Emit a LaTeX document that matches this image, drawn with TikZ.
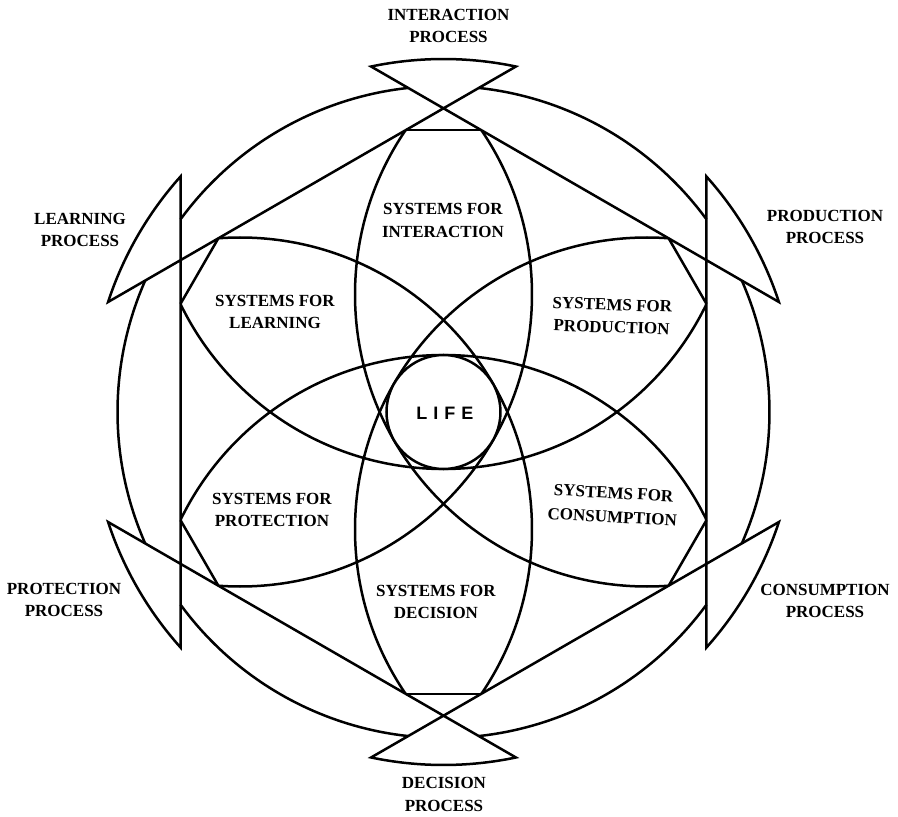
\documentclass[tikz,border=0pt]{standalone}
\usepackage{fontspec}
\setmainfont{Liberation Serif}
\newfontfamily\lifefont{Liberation Sans}

\begin{document}
\begin{tikzpicture}[x=1pt, y=1pt, line width=2.5pt,
        process/.style={align=center, font=\bfseries\fontsize{17}{22.5}\selectfont},
        systems/.style={align=center, font=\bfseries\fontsize{17}{22.5}\selectfont}]
        \useasboundingbox (-443.5,-405) rectangle (454.5,412);

        \draw (36.22:326) arc[start angle=36.22, end angle=83.78, radius=326];
        \draw (96.22:326) arc[start angle=96.22, end angle=143.78, radius=326];
        \draw (156.22:326) arc[start angle=156.22, end angle=203.78, radius=326];
        \draw (216.22:326) arc[start angle=216.22, end angle=263.78, radius=326];
        \draw (276.22:326) arc[start angle=276.22, end angle=323.78, radius=326];
        \draw (336.22:326) arc[start angle=336.22, end angle=383.78, radius=326];

        \draw (-41.84:353) -- (41.84:353) arc[start angle=41.84, end angle=18.16, radius=353]
            -- (101.84:353) arc[start angle=101.84, end angle=78.16, radius=353]
            -- (161.84:353) arc[start angle=161.84, end angle=138.16, radius=353]
            -- (221.84:353) arc[start angle=221.84, end angle=198.16, radius=353]
            -- (281.84:353) arc[start angle=281.84, end angle=258.16, radius=353]
            -- (341.84:353) arc[start angle=341.84, end angle=318.16, radius=353]
            -- cycle;

        \begin{scope}
            \clip (30:303.69) -- (90:303.69) -- (150:303.69) -- (210:303.69)
                -- (270:303.69) -- (330:303.69) -- cycle;
            \draw (30:235) circle (292);
            \draw (90:235) circle (292);
            \draw (150:235) circle (292);
            \draw (210:235) circle (292);
            \draw (270:235) circle (292);
            \draw (330:235) circle (292);
        \end{scope}

        \draw (37.65:284.37) -- (22.35:284.37);
        \draw (97.65:284.37) -- (82.35:284.37);
        \draw (157.65:284.37) -- (142.35:284.37);
        \draw (217.65:284.37) -- (202.35:284.37);
        \draw (277.65:284.37) -- (262.35:284.37);
        \draw (337.65:284.37) -- (322.35:284.37);

        \draw[fill=white] (0,0) circle (57);
        \node (life) at (1.5,-1.5) {\lifefont\bfseries\fontsize{18}{18}\selectfont L\hspace{6pt}I\hspace{6pt}F\hspace{6pt}E};

        \node[systems] (sysint) at (-0.5,191.5) {SYSTEMS FOR\\INTERACTION};
        \node[systems, rotate=-2] (sysprod) at (168.5,96) {SYSTEMS FOR\\PRODUCTION};
        \node[systems, rotate=-3, font=\bfseries\fontsize{17}{24}\selectfont] (syscons) at (169.5,-93) {SYSTEMS FOR\\CONSUMPTION};
        \node[systems] (sysdec) at (-7.5,-190) {SYSTEMS FOR\\DECISION};
        \node[systems] (sysprot) at (-171.5,-98) {SYSTEMS FOR\\PROTECTION};
        \node[systems] (syslearn) at (-168.5,100) {SYSTEMS FOR\\LEARNING};

        \node[process] (procint) at (5,386) {INTERACTION\\PROCESS};
        \node[process] (procprod) at (381.5,185) {PRODUCTION\\PROCESS};
        \node[process] (proccons) at (381.5,-189) {CONSUMPTION\\PROCESS};
        \node[process] (procdec) at (0.5,-382.5) {DECISION\\PROCESS};
        \node[process] (procprot) at (-379.5,-188) {PROTECTION\\PROCESS};
        \node[process] (proclearn) at (-363.5,182) {LEARNING\\PROCESS};

\end{tikzpicture}
\end{document}
